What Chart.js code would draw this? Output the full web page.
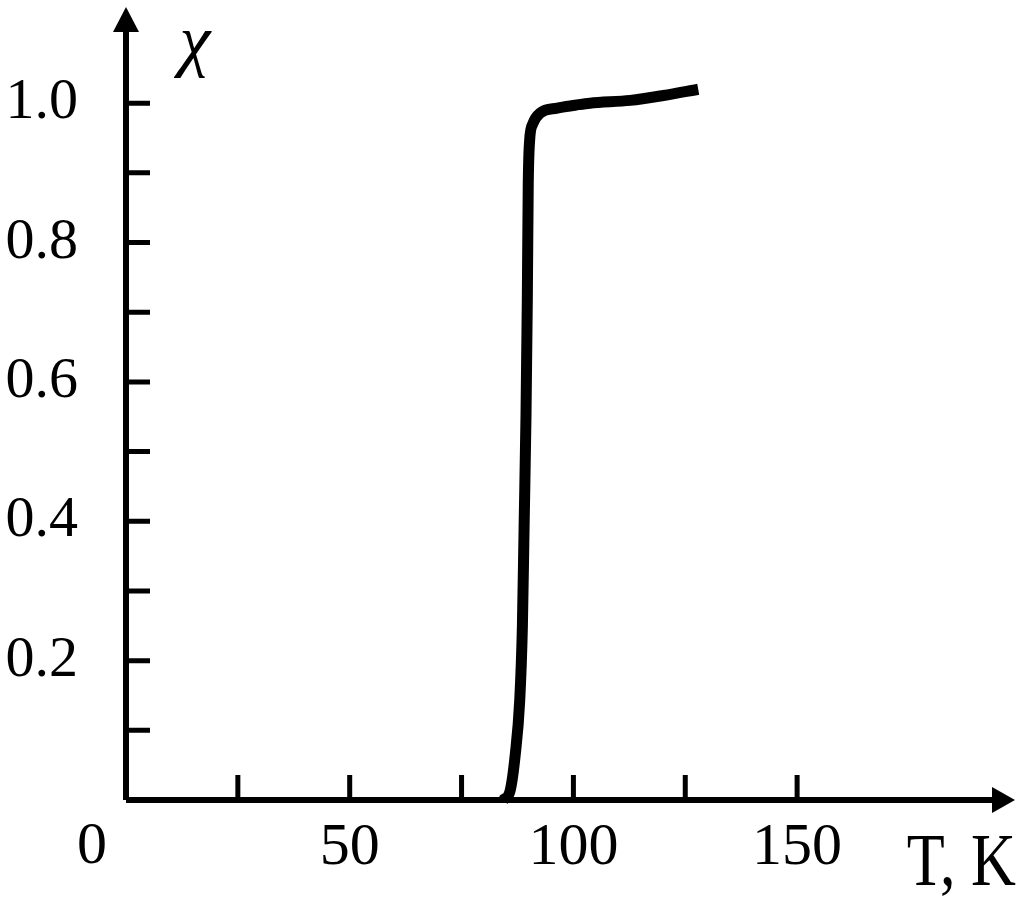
<!DOCTYPE html>
<html>
<head>
<meta charset="utf-8">
<script src="https://cdn.jsdelivr.net/npm/chart.js@4"></script>
<style>
  html, body { margin: 0; padding: 0; background: #fff; }
  canvas { display: block; }
</style>
</head>
<body>
<canvas id="grafico" width="1024" height="903"></canvas>
<script>
// dados
const tempK = [84.3, 85.8, 87.0, 88.0, 88.6, 89.0, 89.4, 89.7, 89.9, 90.2, 90.9, 92.6, 96.4, 100.4, 103.7, 112.7, 120.1, 127.9];
const chi   = [0.0, 0.012, 0.065, 0.143, 0.25, 0.40, 0.55, 0.72, 0.88, 0.945, 0.970, 0.986, 0.993, 0.997, 1.0, 1.004, 1.011, 1.020];
const xTicks = [25, 50, 75, 100, 125, 150];
const yTicks = [0.1, 0.2, 0.3, 0.4, 0.5, 0.6, 0.7, 0.8, 0.9, 1.0];
const xLabels = [50, 100, 150];
const yLabels = [0.2, 0.4, 0.6, 0.8, 1.0];

const font = "'Liberation Serif', 'Times New Roman', serif";
const ctx = document.getElementById('grafico').getContext('2d');

// eixos com setas e marcas para dentro
const eixos = {
  id: 'eixos',
  beforeDatasetsDraw(chart) {
    const c = chart.ctx;
    const xs = chart.scales.x, ys = chart.scales.y;
    const x0 = xs.getPixelForValue(0), y0 = ys.getPixelForValue(0);
    const area = chart.chartArea;
    c.save();
    c.strokeStyle = '#000';
    c.fillStyle = '#000';
    c.lineWidth = 6;
    c.beginPath();
    c.moveTo(x0, y0);
    c.lineTo(area.right - 20, y0);
    c.moveTo(x0, y0);
    c.lineTo(x0, area.top + 20);
    c.stroke();
    // setas
    c.beginPath();
    c.moveTo(area.right, y0);
    c.lineTo(area.right - 23, y0 - 13);
    c.lineTo(area.right - 23, y0 + 13);
    c.closePath();
    c.fill();
    c.beginPath();
    c.moveTo(x0, area.top);
    c.lineTo(x0 - 13, area.top + 25);
    c.lineTo(x0 + 13, area.top + 25);
    c.closePath();
    c.fill();
    // marcas
    c.lineWidth = 5;
    c.beginPath();
    xTicks.forEach(v => {
      const px = xs.getPixelForValue(v);
      c.moveTo(px, y0);
      c.lineTo(px, y0 - 25);
    });
    yTicks.forEach(v => {
      const py = ys.getPixelForValue(v);
      c.moveTo(x0, py);
      c.lineTo(x0 + 24, py);
    });
    c.stroke();
    // textos
    c.font = '60px ' + font;
    c.textAlign = 'center';
    c.textBaseline = 'middle';
    c.fillText('0', x0 - 34, y0 + 47);
    c.save();
    c.translate(area.right + 1, y0 + 85);
    c.scale(0.84, 1);
    c.font = '74px ' + font;
    c.textAlign = 'right';
    c.textBaseline = 'alphabetic';
    c.fillText('T, K', 0, 0);
    c.restore();
    c.font = 'italic 70px ' + font;
    c.textAlign = 'center';
    c.textBaseline = 'alphabetic';
    c.fillText('\u03C7', x0 + 69, y0 - 737);
    c.restore();
  }
};

new Chart(ctx, {
  type: 'scatter',
  data: {
    datasets: [{
      data: tempK.map((t, i) => ({ x: t, y: chi[i] })),
      showLine: true,
      borderColor: '#000',
      borderWidth: 11,
      pointRadius: 0,
      cubicInterpolationMode: 'monotone',
      borderCapStyle: 'butt',
      clip: false
    }]
  },
  options: {
    responsive: false,
    animation: false,
    devicePixelRatio: 1,
    layout: { padding: { top: 7, right: 9, left: 0, bottom: 0 } },
    plugins: { legend: { display: false }, tooltip: { enabled: false } },
    scales: {
      x: {
        type: 'linear',
        min: 0,
        max: 198.7,
        grid: { display: false },
        border: { display: false },
        afterFit: s => { s.height = 103; s.paddingLeft = 0; s.paddingRight = 0; },
        afterBuildTicks: s => { s.ticks = xLabels.map(v => ({ value: v })); },
        ticks: {
          color: '#000',
          padding: 4,
          maxRotation: 0,
          autoSkip: false,
          font: { family: font, size: 60 },
          callback: v => String(v)
        }
      },
      y: {
        type: 'linear',
        min: 0,
        max: 1.138,
        grid: { display: false },
        border: { display: false },
        afterFit: s => { s.width = 126; s.paddingTop = 0; s.paddingBottom = 0; },
        afterBuildTicks: s => { s.ticks = yLabels.map(v => ({ value: v })); },
        ticks: {
          color: '#000',
          padding: 40,
          autoSkip: false,
          font: { family: font, size: 58 },
          callback: v => v.toFixed(1)
        }
      }
    }
  },
  plugins: [eixos]
});
</script>
</body>
</html>
